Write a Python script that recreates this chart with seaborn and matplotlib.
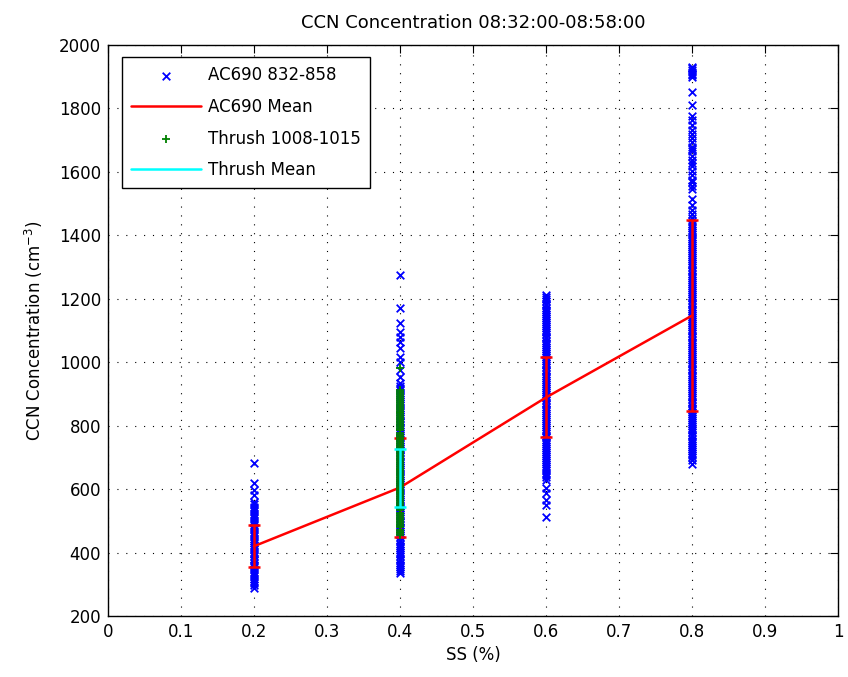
import matplotlib
matplotlib.use("Agg")
import matplotlib.pyplot as plt
import seaborn as sns
import pandas as pd

# ---- data ----
ss_levels = [0.2, 0.4, 0.6, 0.8]

ac_02 = [288, 297, 304, 311, 318, 326, 333, 339, 347, 354, 360, 368, 375, 381,
         389, 396, 402, 410, 417, 423, 431, 438, 444, 452, 459, 466, 473, 480,
         487, 494, 501, 508, 516, 523, 530, 537, 545, 552, 560, 581, 597, 620, 681]
ac_04 = [336, 343, 349, 355, 361, 368, 375, 381, 388, 395, 401, 408, 414, 421,
         428, 435, 441, 448, 455, 462, 468, 475, 481, 488, 495, 501, 508, 515,
         522, 528, 535, 542, 548, 555, 562, 569, 575, 582, 589, 596, 602, 609,
         615, 622, 629, 636, 642, 649, 656, 663, 669, 676, 682, 689, 696, 703,
         709, 716, 723, 730, 736, 743, 749, 756, 763, 770, 776, 783, 790, 797,
         803, 810, 816, 823, 830, 837, 843, 850, 857, 864, 870, 877, 884, 891,
         897, 904, 911, 918, 924, 933, 954, 975, 1002, 1017, 1044, 1065, 1080,
         1096, 1124, 1170, 1275]
ac_06 = [512, 550, 566, 588, 603, 629, 639, 646, 652, 659, 665, 672, 678, 685,
         691, 698, 704, 711, 717, 724, 730, 737, 743, 750, 756, 763, 769, 776,
         782, 789, 795, 802, 808, 815, 821, 828, 834, 841, 847, 854, 860, 867,
         873, 880, 886, 893, 899, 906, 912, 919, 925, 932, 938, 945, 951, 958,
         964, 971, 977, 984, 990, 997, 1003, 1010, 1016, 1023, 1029, 1036, 1042,
         1049, 1055, 1062, 1068, 1075, 1081, 1088, 1094, 1101, 1107, 1114, 1120,
         1127, 1133, 1140, 1146, 1153, 1159, 1166, 1172, 1179, 1185, 1192, 1198,
         1205, 1212]
ac_08 = [680, 693, 701, 708, 714, 720, 727, 733, 740, 746, 753, 759, 766, 772,
         779, 785, 792, 798, 805, 811, 818, 824, 831, 837, 844, 850, 857, 863,
         870, 876, 883, 889, 896, 902, 909, 915, 922, 928, 935, 941, 948, 954,
         961, 967, 974, 980, 987, 993, 1000, 1006, 1013, 1019, 1026, 1032, 1039,
         1045, 1052, 1058, 1065, 1071, 1078, 1084, 1091, 1097, 1104, 1110, 1117,
         1123, 1130, 1136, 1143, 1149, 1156, 1162, 1169, 1175, 1182, 1188, 1195,
         1201, 1208, 1214, 1221, 1227, 1234, 1240, 1247, 1253, 1260, 1266, 1273,
         1279, 1286, 1292, 1299, 1305, 1312, 1318, 1325, 1331, 1338, 1344, 1351,
         1357, 1364, 1370, 1377, 1383, 1390, 1396, 1403, 1409, 1416, 1422, 1429,
         1435, 1445, 1455, 1467, 1480, 1495, 1513, 1547, 1556, 1567, 1575, 1590,
         1604, 1618, 1629, 1639, 1651, 1665, 1672, 1680, 1694, 1708, 1719, 1733,
         1748, 1762, 1777, 1812, 1852, 1899, 1905, 1910, 1916, 1921, 1927, 1932]

thrush_ss = 0.4
thrush_04 = [455, 461, 466, 472, 479, 484, 490, 497, 503, 509, 515, 520, 526, 533,
             539, 545, 551, 556, 562, 569, 575, 581, 587, 592, 598, 605, 611, 617,
             623, 628, 634, 641, 647, 653, 659, 664, 670, 677, 683, 689, 695, 700,
             706, 713, 719, 725, 731, 736, 742, 749, 755, 761, 767, 772, 778, 785,
             791, 797, 803, 808, 814, 821, 827, 833, 839, 844, 850, 857, 863, 869,
             875, 880, 886, 893, 899, 905, 912, 982]

ac_mean = [420, 605, 889, 1147]
ac_err = [67, 155, 126, 302]
thrush_mean = [635]
thrush_err = [91]

x_ticks = [0, 0.1, 0.2, 0.3, 0.4, 0.5, 0.6, 0.7, 0.8, 0.9, 1]
x_ticklabels = ["0", "0.1", "0.2", "0.3", "0.4", "0.5", "0.6", "0.7", "0.8", "0.9", "1"]
y_ticks = [200, 400, 600, 800, 1000, 1200, 1400, 1600, 1800, 2000]

# ---- build frames ----
ac_df = pd.DataFrame({
    "ss": [0.2] * len(ac_02) + [0.4] * len(ac_04) + [0.6] * len(ac_06) + [0.8] * len(ac_08),
    "ccn": ac_02 + ac_04 + ac_06 + ac_08,
})
th_df = pd.DataFrame({"ss": [thrush_ss] * len(thrush_04), "ccn": thrush_04})
acm_df = pd.DataFrame({"ss": ss_levels, "ccn": ac_mean})
thm_df = pd.DataFrame({"ss": [thrush_ss], "ccn": thrush_mean})

sns.set_theme(style="white")
plt.rcParams["font.family"] = ["DejaVu Sans"]
plt.rcParams["font.size"] = 12
plt.rcParams["text.color"] = "black"
plt.rcParams["axes.labelcolor"] = "black"
plt.rcParams["xtick.color"] = "black"
plt.rcParams["ytick.color"] = "black"

fig = plt.figure(figsize=(8.48, 6.77), dpi=100, facecolor="white")
ax = fig.add_axes([108 / 848, 1 - 616 / 677, 730 / 848, 571 / 677])
ax.set_facecolor("white")

sns.scatterplot(data=ac_df, x="ss", y="ccn", ax=ax, marker="x", color="blue",
                s=30, linewidth=1.3, label="AC690 832-858", zorder=3)
sns.lineplot(data=acm_df, x="ss", y="ccn", ax=ax, color="red", linewidth=1.8,
             errorbar=None, label="AC690 Mean", zorder=4)
ax.errorbar(ss_levels, ac_mean, yerr=ac_err, fmt="none", ecolor="red",
            elinewidth=1.8, capsize=4, capthick=1.8, zorder=4)
sns.scatterplot(data=th_df, x="ss", y="ccn", ax=ax, marker="+", color="green",
                s=30, linewidth=1.3, label="Thrush 1008-1015", zorder=5)
sns.lineplot(data=thm_df, x="ss", y="ccn", ax=ax, color="cyan", linewidth=1.8,
             errorbar=None, label="Thrush Mean", zorder=6)
ax.errorbar([thrush_ss], thrush_mean, yerr=thrush_err, fmt="none", ecolor="cyan",
            elinewidth=1.8, capsize=4, capthick=1.8, zorder=6)

ax.set_xlim(0, 1)
ax.set_ylim(200, 2000)
ax.set_xticks(x_ticks)
ax.set_xticklabels(x_ticklabels)
ax.set_yticks(y_ticks)
ax.tick_params(direction="in", length=6, width=0.8, top=True, right=True,
               labelsize=12, colors="black", pad=5)
ax.grid(True, color="black", linestyle=(0, (1, 7)), linewidth=0.8)
for sp in ax.spines.values():
    sp.set_color("black")
    sp.set_linewidth(1.0)
    sp.set_visible(True)

ax.set_title("CCN Concentration 08:32:00-08:58:00", fontsize=13, pad=12, color="black")
ax.set_xlabel("SS (%)", fontsize=12, labelpad=4)
ax.set_ylabel("CCN Concentration (cm$^{-3}$)", fontsize=12, labelpad=10)

handles, labels = ax.get_legend_handles_labels()
order = ["AC690 832-858", "AC690 Mean", "Thrush 1008-1015", "Thrush Mean"]
hmap = dict(zip(labels, handles))
leg = ax.legend([hmap[k] for k in order], order, loc="upper left",
                bbox_to_anchor=(14 / 730, 1 - 12 / 571), borderaxespad=0,
                frameon=True, fancybox=False, edgecolor="black", framealpha=1,
                fontsize=12, handlelength=4.2, labelspacing=0.82, borderpad=0.55,
                handletextpad=0.4)
leg.get_frame().set_linewidth(1.0)
for t in leg.get_texts():
    t.set_color("black")

fig.savefig("out.png", dpi=100, facecolor="white")
